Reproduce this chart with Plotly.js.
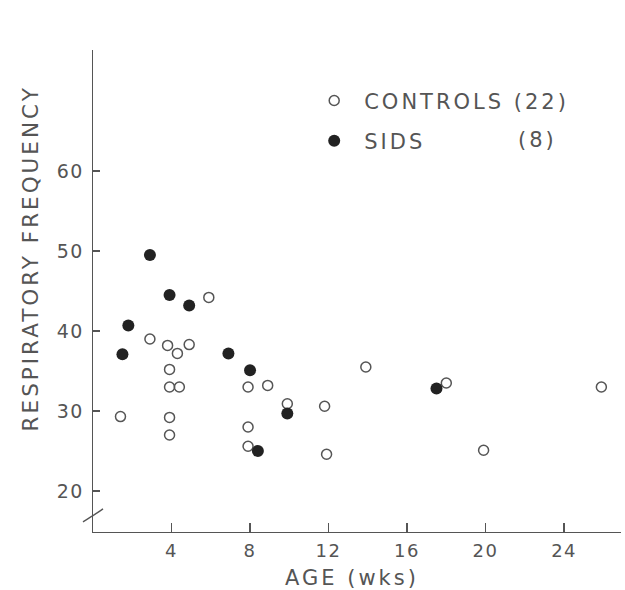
<!DOCTYPE html>
<html>
<head>
<meta charset="utf-8">
<script src="https://cdn.plot.ly/plotly-3.0.1.min.js"></script>
<style>
  html, body { margin: 0; padding: 0; background: #fff; }
  text { letter-spacing: 3px; }
  .xtick text, .ytick text { letter-spacing: 1.5px; }
  .ytitle-ann text { letter-spacing: 3.4px; }
</style>
</head>
<body>
<div id="chart" style="width:625px;height:590px;"></div>
<script>
// Controls (22): age in weeks, respiratory frequency
const controlsAge  = [5.9, 2.9, 3.8, 4.3, 4.9, 3.9, 3.9, 4.4, 7.9, 8.9, 1.4, 3.9, 3.9, 7.9, 7.9, 9.9, 13.9, 18.0, 25.9, 11.8, 11.9, 19.9];
const controlsFreq = [44.2, 39.0, 38.2, 37.2, 38.3, 35.2, 33.0, 33.0, 33.0, 33.2, 29.3, 29.2, 27.0, 28.0, 25.6, 30.9, 35.5, 33.5, 33.0, 30.6, 24.6, 25.1];
// SIDS
const sidsAge  = [2.9, 3.9, 4.9, 1.8, 1.5, 6.9, 8.0, 9.9, 8.4, 17.5];
const sidsFreq = [49.5, 44.5, 43.2, 40.7, 37.1, 37.2, 35.1, 29.7, 25.0, 32.8];

const xTicks = [4, 8, 12, 16, 20, 24];
const yTicks = [20, 30, 40, 50, 60];

const txt = '#555555';
const FONT = 'DejaVu Sans, Liberation Sans, sans-serif';

const traces = [
  {
    x: controlsAge, y: controlsFreq, type: 'scatter', mode: 'markers',
    name: 'CONTROLS (22)', legendgroup: 'c',
    marker: { symbol: 'circle-open', size: 10, color: '#555555', line: { width: 1.5, color: '#555555' } },
    cliponaxis: false
  },
  {
    x: sidsAge, y: sidsFreq, type: 'scatter', mode: 'markers',
    name: 'SIDS', legendgroup: 's',
    marker: { symbol: 'circle', size: 12, color: '#222222' },
    cliponaxis: false
  }
];

const layout = {
  width: 625, height: 590,
  margin: { l: 93, r: 4, t: 50, b: 58 },
  paper_bgcolor: '#ffffff', plot_bgcolor: '#ffffff',
  font: { family: FONT, color: txt, size: 18 },
  showlegend: true,
  legend: {
    x: 0.40, y: 0.937, xanchor: 'left', yanchor: 'top',
    font: { family: FONT, size: 21, color: txt },
    itemwidth: 50, tracegroupgap: 10, traceorder: 'grouped',
    bgcolor: 'rgba(0,0,0,0)'
  },
  xaxis: {
    range: [0, 26.9], showgrid: false, zeroline: false,
    showline: true, linecolor: '#555555', linewidth: 1.3,
    ticks: 'inside', ticklen: 9, tickwidth: 1.2, tickcolor: '#555555',
    tickvals: xTicks, ticktext: xTicks.map(String),
    tickfont: { family: FONT, size: 18, color: txt },
    ticklabelstandoff: 2
  },
  yaxis: {
    range: [14.875, 75.125], showgrid: false, zeroline: false,
    showline: true, linecolor: '#555555', linewidth: 1.3,
    ticks: 'inside', ticklen: 7, tickwidth: 1.2, tickcolor: '#555555',
    tickvals: yTicks, ticktext: yTicks.map(String),
    tickfont: { family: FONT, size: 19, color: txt },
    ticklabelstandoff: 4
  },
  annotations: [
    { text: 'AGE (wks)', xref: 'paper', yref: 'paper', x: 0.49, y: -0.095,
      xanchor: 'center', yanchor: 'middle', showarrow: false,
      font: { family: FONT, size: 21, color: txt } },
    { text: 'RESPIRATORY FREQUENCY', xref: 'paper', yref: 'paper', x: -0.119, y: 0.568,
      xanchor: 'center', yanchor: 'middle', textangle: -90, showarrow: false,
      font: { family: FONT, size: 21.5, color: txt } },
    { text: '(8)', xref: 'paper', yref: 'paper', x: 0.883, y: 0.813,
      xanchor: 'right', yanchor: 'middle', showarrow: false,
      font: { family: FONT, size: 21, color: txt } }
  ],
  shapes: [
    { type: 'path', xref: 'paper', yref: 'paper',
      path: 'M -0.019,0.021 Q -0.006,0.030 0,0.034 Q 0.006,0.038 0.019,0.048',
      line: { color: '#555555', width: 1.3 } }
  ]
};

Plotly.newPlot('chart', traces, layout, { displayModeBar: false, staticPlot: true });
</script>
</body>
</html>
